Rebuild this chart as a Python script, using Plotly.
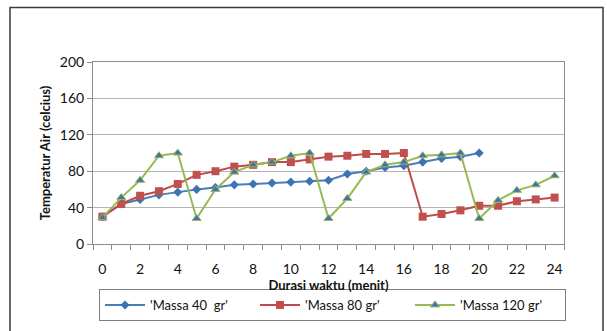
import plotly.graph_objects as go

minutes = list(range(25))
massa40 = [30, 44, 49, 54, 57, 60, 62, 65, 66, 67, 68, 69, 70, 77, 80, 84, 86, 90, 94, 96, 100]
massa80 = [30, 44, 53, 58, 66, 76, 80, 85, 87, 90, 90, 93, 96, 97, 99, 99, 100, 30, 33, 37, 42, 42, 47, 49, 51]
massa120 = [29, 51, 70, 97, 100, 28, 60, 79, 87, 90, 97, 100, 28, 50, 79, 87, 90, 97, 98, 100, 28, 48, 59, 65, 75]
names = ["'Massa 40\u00a0 gr'", "'Massa 80 gr'", "'Massa 120 gr'"]
x_ticks = list(range(0, 25, 2))
y_ticks = list(range(0, 201, 40))

FONT = "Lato, 'Open Sans', sans-serif"

fig = go.Figure()
fig.add_trace(go.Scatter(
    x=minutes[:len(massa40)], y=massa40, name=names[0], mode="lines+markers",
    line=dict(color="#4a7ebb", width=2),
    marker=dict(symbol="diamond", size=7, color="#3f72b5"),
))
fig.add_trace(go.Scatter(
    x=minutes[:len(massa80)], y=massa80, name=names[1], mode="lines+markers",
    line=dict(color="#be4b48", width=2),
    marker=dict(symbol="square", size=8, color="#c0504d"),
))
fig.add_trace(go.Scatter(
    x=minutes[:len(massa120)], y=massa120, name=names[2], mode="lines+markers",
    line=dict(color="#98b954", width=2),
    marker=dict(symbol="triangle-up", size=8, color="#3f72b5",
                line=dict(color="#98b954", width=1)),
))

l, r, t, b = 93, 43, 62, 87
W, H = 607, 331
pw, ph = W - l - r, H - t - b

def px_x(p):
    return (p - l) / pw

def px_y(p):
    return (H - b - p) / ph

fig.add_shape(type="rect", xref="paper", yref="paper",
              x0=px_x(10), x1=px_x(603), y0=px_y(345), y1=px_y(7.5),
              line=dict(color="#3a3a3a", width=1.5), fillcolor="rgba(0,0,0,0)", layer="below")

fig.update_layout(
    width=W, height=H,
    margin=dict(l=l, r=r, t=t, b=b, autoexpand=False),
    paper_bgcolor="white", plot_bgcolor="white",
    font=dict(family=FONT, color="#222222", size=13),
    showlegend=True,
    legend=dict(
        orientation="h", x=px_x(332.5), xanchor="center", y=px_y(305), yanchor="middle",
        bordercolor="#7f7f7f", borderwidth=1, bgcolor="white",
        font=dict(family=FONT, size=13, color="#111111"),
        entrywidth=100, itemwidth=40, tracegroupgap=0,
    ),
    xaxis=dict(
        range=[-0.5, 24.5], tickmode="array", tickvals=x_ticks, ticktext=[str(v) for v in x_ticks],
        ticks="", showgrid=False, zeroline=False,
        showline=True, linecolor="#8c8c8c", linewidth=1, mirror=True,
        tickfont=dict(family=FONT, size=14, color="#111111"),
        ticklabelstandoff=12,
        minor=dict(tickvals=[i - 0.5 for i in range(26)], ticks="outside", ticklen=5,
                   tickcolor="#8c8c8c", tickwidth=1, showgrid=False),
        title=dict(text="<b>Durasi waktu (menit)</b>", font=dict(family=FONT, size=13, color="#111111"), standoff=4),
    ),
    yaxis=dict(
        range=[0, 200], tickmode="array", tickvals=y_ticks,
        ticks="outside", ticklen=5, tickcolor="#8c8c8c",
        showgrid=True, gridcolor="#b5b5b5", gridwidth=1, zeroline=False,
        showline=True, linecolor="#8c8c8c", linewidth=1, mirror=True,
        tickfont=dict(family=FONT, size=14, color="#111111"),
        title=dict(text="<b>Temperatur Air (celcius)</b>", font=dict(family=FONT, size=13, color="#111111"), standoff=6),
    ),
)

fig.write_html("out.html")
